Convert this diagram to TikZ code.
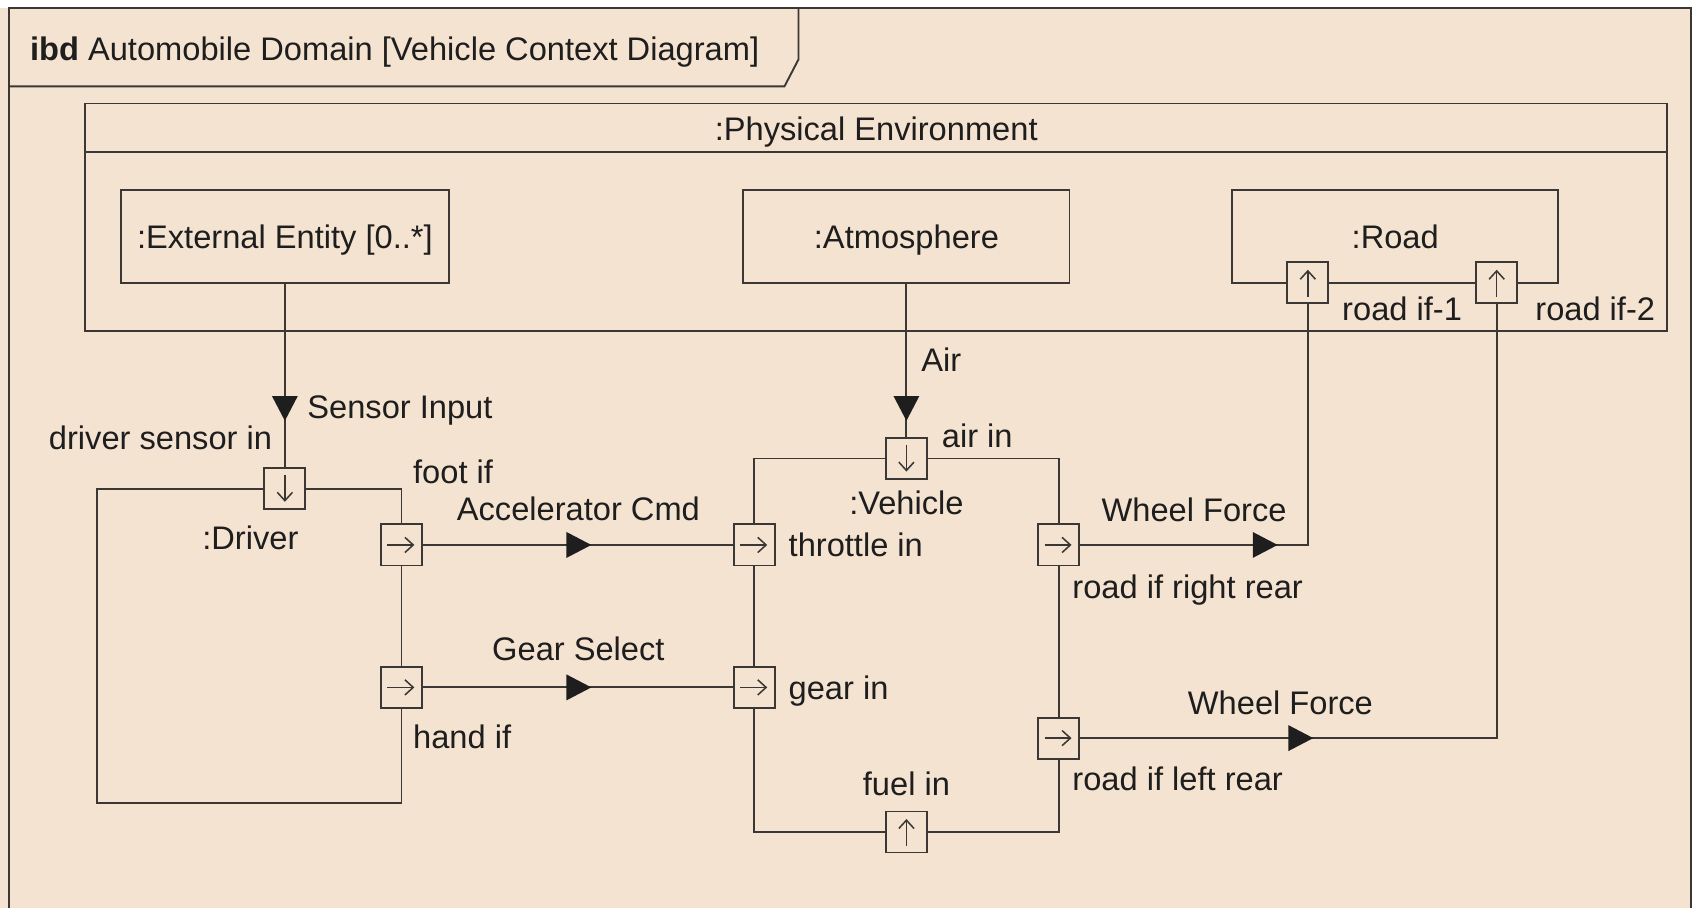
\documentclass[tikz,border=0pt]{standalone}
\usepackage{fontspec}
\setmainfont{Liberation Sans}
\usetikzlibrary{arrows.meta,decorations.markings}
\definecolor{paper}{RGB}{245,227,209}
\definecolor{ink}{RGB}{58,55,52}
\definecolor{txt}{RGB}{30,30,30}
\begin{document}
\begin{tikzpicture}[x=0.01cm, y=-0.01cm, line width=0.5pt, color=ink,
  every node/.style={font=\fontsize{8.6}{10.3}\selectfont, text=txt},
  lbl/.style={inner sep=0pt},
  block/.style={draw, inner sep=0pt, text height=6.2pt, text depth=0pt},
  part/.style={draw, inner sep=0pt},
  port/.style={draw, fill=paper, minimum size=0.38cm, inner sep=0pt},
  glyph/.style={line width=0.4pt, -{Straight Barb[length=2.2pt,width=4pt]}},
  port right/.style={port, path picture={\draw[glyph]
      ([xshift=-0.13cm]path picture bounding box.center) --
      ([xshift=0.12cm]path picture bounding box.center);}},
  port down/.style={port, path picture={\draw[glyph]
      ([yshift=0.13cm]path picture bounding box.center) --
      ([yshift=-0.12cm]path picture bounding box.center);}},
  port up/.style={port, path picture={\draw[glyph]
      ([yshift=-0.13cm]path picture bounding box.center) --
      ([yshift=0.12cm]path picture bounding box.center);}},
  flowtip/.style={postaction=decorate, decoration={markings,
      mark=at position #1 with {\fill[txt] (0,0) -- (-0.23cm,0.12cm) -- (-0.23cm,-0.12cm) -- cycle;}}}
]
% page and diagram frame
\useasboundingbox (0,0) rectangle (1568,841);
\fill[white] (0,0) rectangle (1568,7);
\fill[paper] (0,7) rectangle (1568,841);
\coordinate (fBL) at (8,841);
\coordinate (fTL) at (8,7);
\coordinate (fTR) at (1567,7);
\coordinate (fBR) at (1567,841);
\draw (fBL) -- (fTL) -- (fTR) -- (fBR);
% title tab
\coordinate (tabA) at (8,80);
\coordinate (tabB) at (727,80);
\coordinate (tabC) at (740,55);
\coordinate (tabD) at (740,7);
\draw (tabA) -- (tabB) -- (tabC) -- (tabD);
\node[lbl, anchor=base west] (title) at (27,56) {\textbf{ibd} Automobile Domain [Vehicle Context Diagram]};

% physical environment
\node[part, minimum width=14.65cm, minimum height=2.11cm] (pe) at (811.5,201.5) {};
\coordinate (hdrL) at (79,141);
\draw (hdrL) -- (pe.east |- hdrL);
\node[lbl, anchor=base] (peT) at (812,130) {:Physical Environment};

\node[block, minimum width=3.04cm, minimum height=0.86cm] (ext) at (264,219) {:External Entity [0..*]};
\node[block, minimum width=3.02cm, minimum height=0.86cm] (atm) at (840,219) {:Atmosphere};
\node[block, minimum width=3.02cm, minimum height=0.86cm] (road) at (1293,219) {:Road};

% driver and vehicle
\node[part, minimum width=2.82cm, minimum height=2.91cm] (drv) at (231,598.5) {};
\node[lbl, anchor=base] (drvT) at (232,509) {:Driver};
\node[part, minimum width=2.82cm, minimum height=3.46cm] (veh) at (840,598) {};
\node[lbl, anchor=base] (vehT) at (840,477) {:Vehicle};

% ports
\node[port down] (dsi) at (264,453) {};
\node[port right] (foot) at (372,505) {};
\node[port right] (hand) at (372,637) {};
\node[port down] (airin) at (840,425) {};
\node[port right] (thr) at (699,505) {};
\node[port right] (gear) at (699,637) {};
\node[port right] (rrr) at (981,505) {};
\node[port right] (rlr) at (981,684) {};
\node[port up] (fuel) at (840,771) {};
\node[port up] (rif1) at (1212,262) {};
\node[port up] (rif2) at (1387,262) {};

% flows
\draw[flowtip=1.27cm] (ext.south) -- (dsi.north);
\draw[flowtip=1.27cm] (atm.south) -- (airin.north);
\draw[flowtip=1.56cm] (foot.east) -- (thr.west);
\draw[flowtip=1.56cm] (hand.east) -- (gear.west);
\draw[flowtip=1.83cm] (rrr.east) -- (rif1 |- rrr) -- (rif1.south);
\draw[flowtip=2.16cm] (rlr.east) -- (rif2 |- rlr) -- (rif2.south);

% labels
\node[lbl, anchor=base west] (lRif1) at (1243,297) {road if-1};
\node[lbl, anchor=base west] (lRif2) at (1422,297) {road if-2};
\node[lbl, anchor=base west] (lAir) at (853,344) {Air};
\node[lbl, anchor=base west] (lSens) at (284,388) {Sensor Input};
\node[lbl, anchor=base east] (lDsi) at (253,417) {driver sensor in};
\node[lbl, anchor=base west] (lAirIn) at (872,415) {air in};
\node[lbl, anchor=base west] (lFoot) at (382,448) {foot if};
\node[lbl, anchor=base] (lAcc) at (536,482) {Accelerator Cmd};
\node[lbl, anchor=base west] (lWf1) at (1020,483) {Wheel Force};
\node[lbl, anchor=base west] (lThr) at (730,516) {throttle in};
\node[lbl, anchor=base west] (lRrr) at (993,555) {road if right rear};
\node[lbl, anchor=base] (lGear) at (536,612) {Gear Select};
\node[lbl, anchor=base west] (lGearIn) at (730,648) {gear in};
\node[lbl, anchor=base west] (lWf2) at (1100,662) {Wheel Force};
\node[lbl, anchor=base west] (lHand) at (382,694) {hand if};
\node[lbl, anchor=base west] (lRlr) at (993,733) {road if left rear};
\node[lbl, anchor=base] (lFuel) at (840,737) {fuel in};
\end{tikzpicture}
\end{document}
